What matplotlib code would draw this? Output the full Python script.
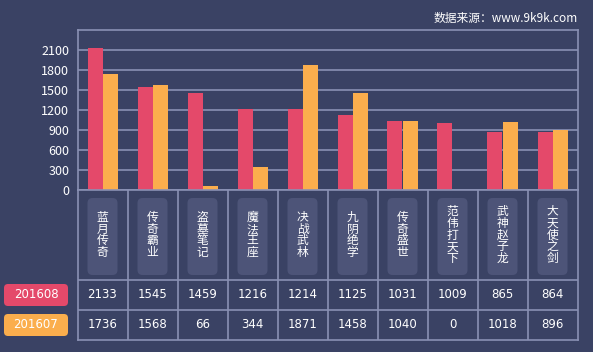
import numpy as np
import matplotlib.pyplot as plt
from matplotlib.patches import FancyBboxPatch

plt.rcParams['font.family'] = ['Noto Sans CJK SC', 'DejaVu Sans']

games = ['蓝月传奇', '传奇霸业', '盗墓笔记', '魔法王座', '决战武林',
         '九阴绝学', '传奇盛世', '范伟打天下', '武神赵子龙', '大天使之剑']
s201608 = [2133, 1545, 1459, 1216, 1214, 1125, 1031, 1009, 865, 864]
s201607 = [1736, 1568, 66, 344, 1871, 1458, 1040, 0, 1018, 896]
series_names = ['201608', '201607']
yticks = [0, 300, 600, 900, 1200, 1500, 1800, 2100]

bg = '#3a4264'
grid = '#8a91b4'
red = '#e4496a'
orange = '#fbae4d'
box = '#4d5478'

W, H = 593, 352
fig = plt.figure(figsize=(W / 100, H / 100), dpi=100)
fig.patch.set_facecolor(bg)

# chart area
ax = fig.add_axes([77.5 / W, (H - 190) / H, 500 / W, 160 / H])
ax.set_facecolor(bg)
x = np.arange(len(games))
bw = 0.3
ax.bar(x - bw / 2, s201608, bw, color=red, zorder=3)
ax.bar(x + bw / 2, s201607, bw, color=orange, zorder=3)
ax.set_xlim(-0.5, len(games) - 0.5)
ax.set_ylim(0, 2400)
ax.set_yticks(yticks)
ax.set_xticks([])
ax.yaxis.grid(True, color=grid, linewidth=1.2, zorder=1)
ax.tick_params(axis='y', length=0, colors='white', labelsize=9, pad=6)
for sp in ax.spines.values():
    sp.set_color(grid)
    sp.set_linewidth(1.2)

# table area (y in pixels from the table top)
tb = fig.add_axes([77.5 / W, (H - 340) / H, 500 / W, 150 / H])
tb.set_facecolor(bg)
tb.set_xlim(0, len(games))
tb.set_ylim(150, 0)
tb.set_xticks([])
tb.set_yticks([])
for sp in tb.spines.values():
    sp.set_color(grid)
    sp.set_linewidth(1.2)
tb.hlines([90, 120], 0, len(games), color=grid, linewidth=1.2)
tb.vlines(np.arange(1, len(games)), 0, 150, color=grid, linewidth=1.2)
step = 11.8
for i, name in enumerate(games):
    tb.add_patch(FancyBboxPatch((i + 0.2, 8), 0.6, 77,
                                boxstyle='round,pad=0,rounding_size=0.1',
                                mutation_aspect=50,
                                facecolor=box, edgecolor='none'))
    n = len(name)
    for k, ch in enumerate(name):
        tb.text(i + 0.5, 45 + (k - (n - 1) / 2) * step, ch, color='white',
                fontsize=8.5, ha='center', va='center')
    tb.text(i + 0.5, 105, str(s201608[i]), color='white', fontsize=8.5,
            ha='center', va='center', family='DejaVu Sans')
    tb.text(i + 0.5, 135, str(s201607[i]), color='white', fontsize=8.5,
            ha='center', va='center', family='DejaVu Sans')

# legend boxes and source note
ov = fig.add_axes([0, 0, 1, 1])
ov.set_xlim(0, W)
ov.set_ylim(H, 0)
ov.axis('off')
ov.patch.set_alpha(0)
for name, col, yc in zip(series_names, [red, orange], [295, 325]):
    ov.add_patch(FancyBboxPatch((4, yc - 11), 64, 22,
                                boxstyle='round,pad=0,rounding_size=4',
                                facecolor=col, edgecolor='none'))
    ov.text(36, yc, name, color='white', fontsize=8.5, ha='center',
            va='center', family='DejaVu Sans')
ov.text(578, 18, '数据来源：www.9k9k.com', color='white', fontsize=8.5,
        ha='right', va='center')

fig.savefig('out.png', dpi=100, facecolor=bg)
